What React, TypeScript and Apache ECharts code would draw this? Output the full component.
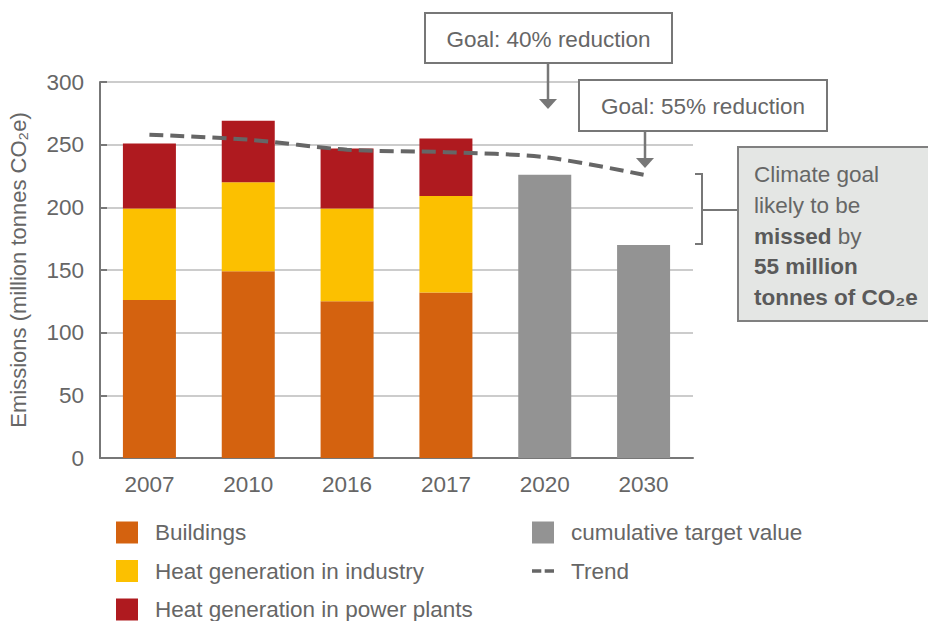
import React, { useEffect, useRef } from "react";
import * as echarts from "echarts";

const categories = ["2007", "2010", "2016", "2017", "2020", "2030"];
const buildings = [126, 149, 125, 132, "-", "-"];
const industry = [73, 71, 74, 77, "-", "-"];
const powerPlants = [52, 49, 48, 46, "-", "-"];
const target = ["-", "-", "-", "-", 226, 170];
const trend = [258, 254, 246, 244, 240, 226];
const yTicks = [0, 50, 100, 150, 200, 250, 300];

const FONT = "Liberation Sans, Arial, Helvetica, sans-serif";
const TXT = "#666666";
const AX = "#777777";
const FS = 22.5;

export default function App() {
  const ref = useRef<HTMLDivElement>(null);
  useEffect(() => {
    document.body.style.margin = "0";
    const chart = echarts.init(ref.current!, undefined, { renderer: "svg" });
    const legendText = { color: TXT, fontSize: FS, fontFamily: FONT, lineHeight: 22, padding: [0, 0, 0, 12] };
    const option: any = {
      animation: false,
      textStyle: { fontFamily: FONT },
      grid: { left: 100, right: 235, top: 82, bottom: 163, outerBoundsMode: "none", containLabel: false },
      legend: [
        {
          orient: "vertical",
          left: 116,
          top: 521,
          height: 140,
          padding: 0,
          itemWidth: 22,
          itemHeight: 22,
          itemGap: 15.5,
          icon: "rect",
          textStyle: legendText,
          data: ["Buildings", "Heat generation in industry", "Heat generation in power plants"],
        },
        {
          orient: "vertical",
          left: 532,
          top: 521,
          height: 140,
          padding: 0,
          itemWidth: 22,
          itemHeight: 22,
          itemGap: 15.5,
          textStyle: legendText,
          data: [
            { name: "cumulative target value", icon: "rect" },
            { name: "Trend", icon: "path://M0,0 h11 v4 h-11 z M15,0 h11 v4 h-11 z" },
          ],
        },
      ],
      xAxis: {
        type: "category",
        data: categories,
        axisLine: { lineStyle: { color: AX, width: 2 } },
        axisTick: { inside: true, length: 7, lineStyle: { color: AX, width: 2 } },
        axisLabel: { color: TXT, fontSize: FS, margin: 15, fontFamily: FONT },
      },
      yAxis: {
        type: "value",
        min: yTicks[0],
        max: yTicks[yTicks.length - 1],
        interval: 50,
        name: "Emissions (million tonnes CO₂e)",
        nameLocation: "middle",
        nameGap: 71,
        nameTextStyle: { color: TXT, fontSize: 22, fontFamily: FONT },
        axisLine: { show: true, lineStyle: { color: AX, width: 2 } },
        axisTick: { show: true, inside: true, length: 7, lineStyle: { color: AX, width: 2 } },
        axisLabel: { color: TXT, fontSize: FS, margin: 16, fontFamily: FONT },
        splitLine: { lineStyle: { color: "#bbbbbb", width: 1.5 } },
      },
      series: [
        {
          name: "Buildings",
          type: "bar",
          stack: "total",
          barWidth: 53,
          data: buildings,
          itemStyle: { color: "#D4620F" },
        },
        {
          name: "Heat generation in industry",
          type: "bar",
          stack: "total",
          data: industry,
          itemStyle: { color: "#FCC000" },
        },
        {
          name: "Heat generation in power plants",
          type: "bar",
          stack: "total",
          data: powerPlants,
          itemStyle: { color: "#AF1A1F" },
        },
        {
          name: "cumulative target value",
          type: "bar",
          stack: "total",
          data: target,
          itemStyle: { color: "#939393" },
        },
        {
          name: "Trend",
          type: "line",
          data: trend,
          smooth: 0.3,
          symbol: "none",
          itemStyle: { color: "#666666" },
          lineStyle: { color: "#666666", width: 4, type: [14, 7] },
          z: 5,
        },
      ],
      graphic: [
        {
          type: "rect",
          shape: { x: 425, y: 13, width: 247, height: 50 },
          style: { fill: "#ffffff", stroke: AX, lineWidth: 2 },
          z: 10,
        },
        {
          type: "text",
          x: 548.5,
          y: 39,
          style: { text: "Goal: 40% reduction", fill: TXT, fontSize: FS, fontFamily: FONT, align: "center", verticalAlign: "middle" },
          z: 11,
        },
        {
          type: "line",
          shape: { x1: 548, y1: 63, x2: 548, y2: 100 },
          style: { stroke: AX, lineWidth: 2.5 },
          z: 10,
        },
        {
          type: "polygon",
          shape: { points: [[539, 99], [557, 99], [548, 109]] },
          style: { fill: AX },
          z: 10,
        },
        {
          type: "rect",
          shape: { x: 579, y: 80, width: 248, height: 51 },
          style: { fill: "#ffffff", stroke: AX, lineWidth: 2 },
          z: 10,
        },
        {
          type: "text",
          x: 703,
          y: 106,
          style: { text: "Goal: 55% reduction", fill: TXT, fontSize: FS, fontFamily: FONT, align: "center", verticalAlign: "middle" },
          z: 11,
        },
        {
          type: "line",
          shape: { x1: 645, y1: 131, x2: 645, y2: 159 },
          style: { stroke: AX, lineWidth: 2.5 },
          z: 10,
        },
        {
          type: "polygon",
          shape: { points: [[636, 158], [654, 158], [645, 168]] },
          style: { fill: AX },
          z: 10,
        },
        {
          type: "polyline",
          shape: { points: [[695, 174], [702, 174], [702, 244], [695, 244]] },
          style: { stroke: AX, lineWidth: 2, fill: "none" },
          z: 10,
        },
        {
          type: "line",
          shape: { x1: 702, y1: 210, x2: 738, y2: 210 },
          style: { stroke: AX, lineWidth: 2 },
          z: 10,
        },
        {
          type: "rect",
          shape: { x: 738, y: 147, width: 200, height: 174 },
          style: { fill: "#e4e6e4", stroke: "#808080", lineWidth: 2 },
          z: 10,
        },
        {
          type: "text",
          x: 754,
          y: 159,
          style: {
            text: "Climate goal\nlikely to be\n{b|missed} by\n{b|55 million}\n{b|tonnes of CO₂e}",
            fill: TXT,
            fontSize: FS,
            fontFamily: FONT,
            lineHeight: 30.8,
            align: "left",
            verticalAlign: "top",
            rich: {
              b: { fontWeight: "bold", fill: "#5a5a5a", fontSize: FS, fontFamily: FONT, lineHeight: 30.8 },
            },
          },
          z: 11,
        },
      ],
    };
    chart.setOption(option);
    return () => chart.dispose();
  }, []);
  return <div ref={ref} style={{ width: 928, height: 621 }} />;
}
